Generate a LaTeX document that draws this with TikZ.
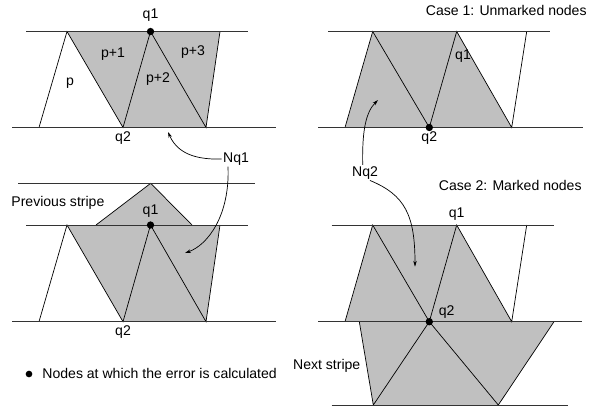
\documentclass[tikz,border=0pt]{standalone}
\usepackage{fontspec}
\setmainfont{Liberation Sans}
\definecolor{trigray}{RGB}{192,192,192}
\usetikzlibrary{arrows.meta,positioning}

\begin{document}
\begin{tikzpicture}[x=0.03cm, y=-0.03cm,
  stripe/.style={line width=0.6pt, draw=black!80},
  edge/.style={line width=0.6pt, draw=black},
  tri/.style={fill=trigray, draw=none},
  lbl/.style={font=\fontsize{12}{14}\selectfont, inner sep=1pt},
  errdot/.style={circle, fill=black, inner sep=0pt, minimum size=0.22cm},
  conn/.style={-{Stealth[length=5pt, width=3pt]}, line width=0.6pt}
]
\useasboundingbox (0,0) rectangle (600,408);

% ---- top left: one stripe, q1 marked
\coordinate (ta) at (67,31.5);   \coordinate (tq1) at (150.5,31.5); \coordinate (td) at (220,31.5);
\coordinate (tb) at (39,127.5);  \coordinate (tq2) at (123,127.5);  \coordinate (tc) at (206,127.5);
\fill[tri] (ta) -- (td) -- (tc) -- (tq2) -- cycle;
\draw[edge] (tb) -- (ta) -- (tq2) -- (tq1) -- (tc) -- (td);
\draw[stripe] (26,31.5) -- (248,31.5);
\draw[stripe] (12,127.5) -- (276,127.5);
\node[errdot] (tdot) at (tq1) {};
\node[lbl] (tq1l) at (150.5,15) {q1};
\node[lbl] (tq2l) at (123,138) {q2};
\node[lbl] (tp0) at (70,83) {p};
\node[lbl] (tp1) at (113,54) {p+1};
\node[lbl] (tp2) at (158,79) {p+2};
\node[lbl] (tp3) at (193,52) {p+3};

% ---- bottom left: previous stripe
\coordinate (pl) at (96,225); \coordinate (pt) at (150.7,183.3); \coordinate (pr) at (192,225);
\fill[tri] (pl) -- (pt) -- (pr) -- cycle;
\draw[edge] (pl) -- (pt) -- (pr);
\coordinate (ba) at (67,225);   \coordinate (bq1) at (150.5,225); \coordinate (bd) at (220,225);
\coordinate (bb) at (39,321.7); \coordinate (bq2) at (123,321.7); \coordinate (bc) at (206,321.7);
\fill[tri] (ba) -- (bd) -- (bc) -- (bq2) -- cycle;
\draw[edge] (bb) -- (ba) -- (bq2) -- (bq1) -- (bc) -- (bd);
\draw[stripe] (18,183.3) -- (255,183.3);
\draw[stripe] (26,225) -- (248,225);
\draw[stripe] (12,321.7) -- (276,321.7);
\node[errdot] (bdot) at (bq1) {};
\node[lbl] (bq1l) at (150.5,211) {q1};
\node[lbl] (bq2l) at (123,332) {q2};
\node[lbl, anchor=west] (prev) at (10,203) {Previous stripe};

% legend
\node[errdot, minimum size=0.2cm] (legdot) at (29,374) {};
\node[lbl, anchor=west] (legtxt) at (41,373) {Nodes at which the error is calculated};

% ---- top right: case 1
\node[lbl, anchor=east] (case1) at (588,10) {Case 1: Unmarked nodes};
\coordinate (ra) at (372.7,31.5);  \coordinate (rq1) at (456.7,31.5); \coordinate (rd) at (526.7,31.5);
\coordinate (rb) at (345,127.5);   \coordinate (rq2) at (429.3,127.5); \coordinate (rc) at (511.7,127.5);
\fill[tri] (rb) -- (ra) -- (rq1) -- (rc) -- cycle;
\draw[edge] (rb) -- (ra) -- (rq2) -- (rq1) -- (rc) -- (rd);
\draw[stripe] (328,31.5) -- (550,31.5);
\draw[stripe] (318,127.5) -- (583,127.5);
\node[errdot] (rdot) at (rq2) {};
\node[lbl] (rq1l) at (463,56) {q1};
\node[lbl] (rq2l) at (429.3,138) {q2};

% ---- bottom right: case 2
\node[lbl, anchor=east] (case2) at (583,185) {Case 2: Marked nodes};
\coordinate (sa) at (372.7,225);   \coordinate (sq1) at (456.7,225);  \coordinate (sd) at (526.7,225);
\coordinate (sb) at (345,321.7);   \coordinate (sq2) at (429.3,321.7); \coordinate (sc) at (511.7,321.7);
\coordinate (na) at (359.3,321.7); \coordinate (nd) at (554,321.7);
\coordinate (nb) at (373.3,405);   \coordinate (nc) at (498.3,405);
\fill[tri] (sb) -- (sa) -- (sq1) -- (sc) -- cycle;
\fill[tri] (na) -- (nd) -- (nc) -- (nb) -- cycle;
\draw[edge] (sb) -- (sa) -- (sq2) -- (sq1) -- (sc) -- (sd);
\draw[edge] (na) -- (nb) -- (sq2) -- (nc) -- (nd);
\draw[stripe] (331.7,225) -- (554.3,225);
\draw[stripe] (318,321.7) -- (581.7,321.7);
\draw[stripe] (331.7,405) -- (568,405);
\node[errdot] (sdot) at (sq2) {};
\node[lbl] (sq1l) at (456.7,214) {q1};
\node[lbl] (sq2l) at (446.7,312) {q2};
\node[lbl] (next) at (326.7,366) {Next stripe};

% ---- pointers to the neighbour sets
\node[lbl] (nq1) at (236,159) {Nq1};
\node[lbl] (nq2) at (365,172.7) {Nq2};
\coordinate (nq1a) at (168,132);
\coordinate (nq1b) at (185,253);
\coordinate (nq2a) at (378,100);
\coordinate (nq2b) at (415,266.7);
\draw[conn] (nq1.west) .. controls (190,160) and (176,150) .. (nq1a);
\draw[conn] (nq1.south -| 228,0) .. controls (230,215) and (208,245) .. (nq1b);
\draw[conn] (nq2.north -| 362.7,0) .. controls (362,130) and (366,112) .. (nq2a);
\draw[conn] (nq2.south -| 370,0) .. controls (405,195) and (415,215) .. (nq2b);
\end{tikzpicture}
\end{document}
